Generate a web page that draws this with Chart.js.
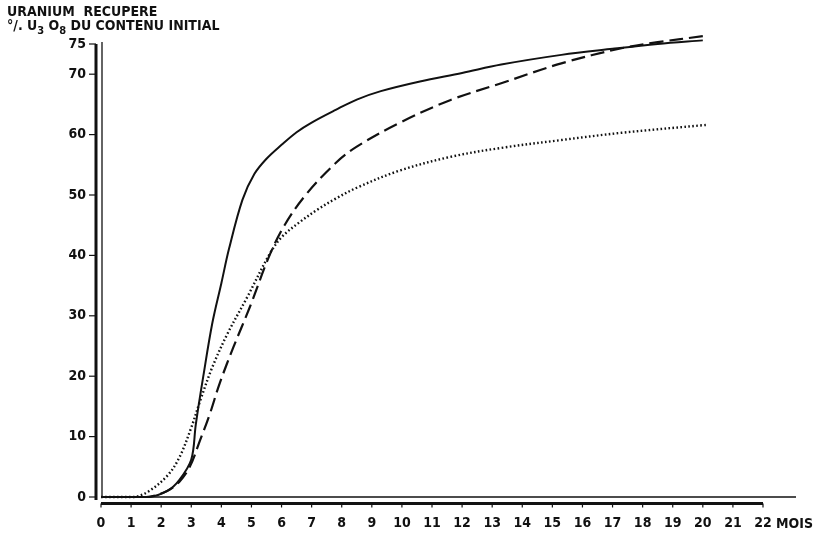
<!DOCTYPE html>
<html>
<head>
<meta charset="utf-8">
<script src="https://cdn.jsdelivr.net/npm/chart.js@4.4.1/dist/chart.umd.min.js"></script>
<style>
  html, body { margin: 0; padding: 0; background: #fff; }
  #wrap { position: relative; width: 815px; height: 545px; }
  canvas { position: absolute; left: 0; top: 0; }
  .lbl { position: absolute; font-family: "DejaVu Sans Condensed", "DejaVu Sans", sans-serif;
         font-weight: bold; font-size: 14px; color: #111; white-space: nowrap; line-height: 14px; }
  .lbl sub { font-size: 11px; vertical-align: -4px; line-height: 0; }
</style>
</head>
<body>
<div id="wrap">
  <canvas id="chart" width="815" height="545"></canvas>
  <div class="lbl" style="left:7px; top:4px;">URANIUM&nbsp; RECUPERE</div>
  <div class="lbl" style="left:7px; top:18px;">°/. U<sub>3</sub> O<sub>8</sub> DU CONTENU INITIAL</div>
  <div class="lbl" style="left:776px; top:516px;">MOIS</div>
</div>
<script>
// Mois et % U3O8 récupéré
const solidMonths = [0, 1.6, 2.2, 2.6, 3.0, 3.15, 3.4, 3.7, 4.0, 4.25, 4.7, 5.1, 5.5, 6.0, 6.5, 7.0, 7.8, 8.5, 9.3, 10.6, 12.0, 13.3, 15.3, 17.0, 18.5, 20.0];
const solidValues = [0, 0, 1, 2.8, 6.2, 12, 20, 28.8, 35.4, 41, 49.2, 53.5, 56, 58.3, 60.4, 62, 64.1, 65.8, 67.2, 68.8, 70.2, 71.6, 73.2, 74.2, 75.0, 75.6];

const dashedMonths = [0, 1.5, 2.2, 2.6, 2.95, 3.3, 3.6, 3.95, 4.4, 4.95, 5.6, 6.1, 6.8, 7.8, 8.5, 9.9, 11.6, 13.3, 15.3, 17.3, 18.5, 20.0];
const dashedValues = [0, 0, 1, 2.5, 5, 9.5, 13.5, 18.9, 24.8, 31.5, 40, 45, 50, 55.3, 58, 61.9, 65.7, 68.5, 71.8, 74.3, 75.3, 76.3];

const dottedMonths = [0, 1.1, 1.6, 2.2, 2.6, 3.0, 3.3, 3.7, 4.2, 4.85, 5.6, 6.0, 6.6, 7.2, 7.8, 8.5, 9.9, 11.6, 13.3, 15.3, 17.3, 20.1];
const dottedValues = [0, 0, 1, 3.5, 6.5, 11.5, 16, 21.5, 27, 33, 40.2, 43, 45.5, 47.6, 49.4, 51.2, 54, 56.3, 57.8, 59.1, 60.3, 61.6];

const xTicks = [0, 1, 2, 3, 4, 5, 6, 7, 8, 9, 10, 11, 12, 13, 14, 15, 16, 17, 18, 19, 20, 21, 22];
const yTicks = [0, 10, 20, 30, 40, 50, 60, 70, 75];

function toPoints(months, values) {
    return months.map((m, i) => ({ x: m, y: values[i] }));
}

const ink = '#111';
const tickFont = { family: '"DejaVu Sans Condensed", "DejaVu Sans", sans-serif', size: 14, weight: 'bold' };

// Axes dessinés à la main (double trait vertical, barre épaisse horizontale)
const axesDecor = {
    id: 'axesDecor',
    afterDraw(chart) {
        const ctx = chart.ctx;
        const xs = chart.scales.x;
        const ys = chart.scales.y;
        const a = chart.chartArea;
        ctx.save();
        ctx.strokeStyle = ink;
        ctx.lineCap = 'butt';

        // trait fin vertical
        ctx.lineWidth = 1.3;
        ctx.beginPath();
        ctx.moveTo(a.left + 1, a.top - 2);
        ctx.lineTo(a.left + 1, a.bottom);
        ctx.stroke();

        // trait épais vertical
        ctx.lineWidth = 3;
        ctx.beginPath();
        ctx.moveTo(a.left - 5, a.top);
        ctx.lineTo(a.left - 5, a.bottom + 3);
        ctx.stroke();

        // petits traits des graduations y
        ctx.lineWidth = 1.2;
        yTicks.forEach(v => {
            const y = ys.getPixelForValue(v);
            ctx.beginPath();
            ctx.moveTo(a.left - 12, y);
            ctx.lineTo(a.left - 5, y);
            ctx.stroke();
        });

        // ligne fine de base
        ctx.lineWidth = 1.3;
        ctx.beginPath();
        ctx.moveTo(a.left + 1, a.bottom);
        ctx.lineTo(a.right + 33, a.bottom);
        ctx.stroke();

        // barre épaisse de l'axe des mois
        const barY = a.bottom + 6.5;
        ctx.lineWidth = 3;
        ctx.beginPath();
        ctx.moveTo(xs.getPixelForValue(0), barY);
        ctx.lineTo(xs.getPixelForValue(22), barY);
        ctx.stroke();

        ctx.lineWidth = 1.2;
        xTicks.forEach(v => {
            const x = xs.getPixelForValue(v);
            ctx.beginPath();
            ctx.moveTo(x, barY);
            ctx.lineTo(x, barY + 4);
            ctx.stroke();
        });
        ctx.restore();
    }
};

new Chart(document.getElementById('chart'), {
    type: 'line',
    data: {
        datasets: [
            {
                data: toPoints(solidMonths, solidValues),
                borderColor: ink,
                borderWidth: 2,
                pointRadius: 0,
                tension: 0.35,
                clip: false
            },
            {
                data: toPoints(dashedMonths, dashedValues),
                borderColor: ink,
                borderWidth: 2.2,
                borderDash: [14, 6],
                pointRadius: 0,
                tension: 0.35,
                clip: false
            },
            {
                data: toPoints(dottedMonths, dottedValues),
                borderColor: ink,
                borderWidth: 2.4,
                borderDash: [1.6, 2.4],
                pointRadius: 0,
                tension: 0.35,
                clip: false
            }
        ]
    },
    options: {
        responsive: false,
        animation: false,
        layout: { padding: { top: 44, right: 52, left: 0, bottom: 0 } },
        plugins: {
            legend: { display: false },
            tooltip: { enabled: false }
        },
        scales: {
            x: {
                type: 'linear',
                min: 0,
                max: 22,
                afterBuildTicks: scale => { scale.ticks = xTicks.map(v => ({ value: v })); },
                afterFit: scale => { scale.height = 48; },
                grid: { display: false, drawTicks: false },
                border: { display: false },
                ticks: { color: ink, font: tickFont, padding: 18, maxRotation: 0, autoSkip: false }
            },
            y: {
                min: 0,
                max: 75,
                afterBuildTicks: scale => { scale.ticks = yTicks.map(v => ({ value: v })); },
                afterFit: scale => { scale.width = 101; },
                grid: { display: false, drawTicks: false },
                border: { display: false },
                ticks: { color: ink, font: tickFont, padding: 15 }
            }
        }
    },
    plugins: [axesDecor]
});
</script>
</body>
</html>
